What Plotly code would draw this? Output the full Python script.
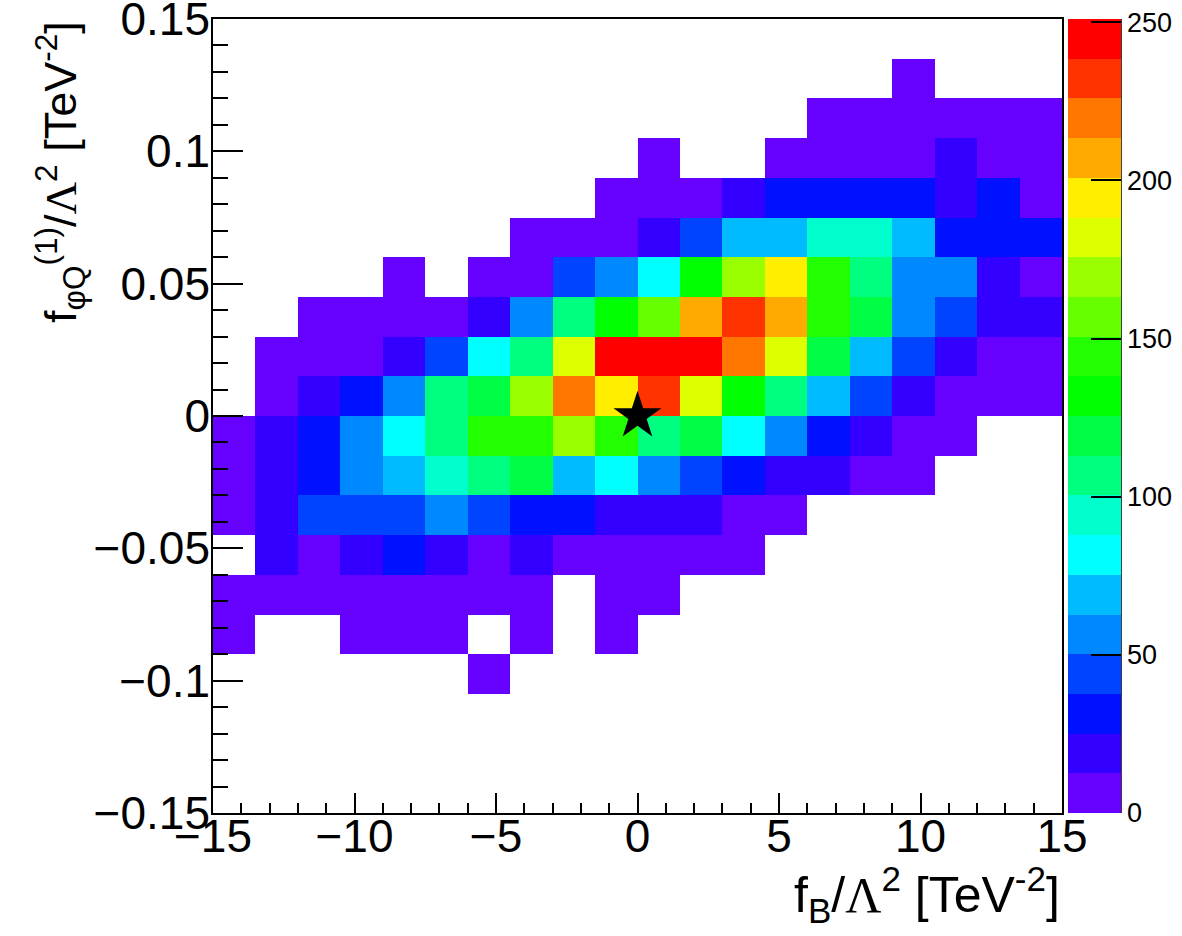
import plotly.graph_objects as go

# ---------------- data ----------------
# bin edges: 20 x-bins on [-15, 15], 20 y-bins on [-0.15, 0.15]
x_centers = [-14.25, -12.75, -11.25, -9.75, -8.25, -6.75, -5.25, -3.75, -2.25, -0.75,
             0.75, 2.25, 3.75, 5.25, 6.75, 8.25, 9.75, 11.25, 12.75, 14.25]
y_centers = [-0.1425, -0.1275, -0.1125, -0.0975, -0.0825, -0.0675, -0.0525, -0.0375,
             -0.0225, -0.0075, 0.0075, 0.0225, 0.0375, 0.0525, 0.0675, 0.0825,
             0.0975, 0.1125, 0.1275, 0.1425]
N = None
# counts per bin, rows from bottom (y=-0.15) to top (y=0.15); None = empty bin
counts = [
    [N, N, N, N, N, N, N, N, N, N, N, N, N, N, N, N, N, N, N, N],
    [N, N, N, N, N, N, N, N, N, N, N, N, N, N, N, N, N, N, N, N],
    [N, N, N, N, N, N, N, N, N, N, N, N, N, N, N, N, N, N, N, N],
    [N, N, N, N, N, N, 6, N, N, N, N, N, N, N, N, N, N, N, N, N],
    [6, N, N, 6, 6, 6, N, 6, N, 6, N, N, N, N, N, N, N, N, N, N],
    [6, 6, 6, 6, 6, 6, 6, 6, N, 6, 6, N, N, N, N, N, N, N, N, N],
    [N, 19, 6, 19, 31, 19, 6, 19, 6, 6, 6, 6, 6, N, N, N, N, N, N, N],
    [6, 19, 44, 44, 44, 56, 44, 31, 31, 19, 19, 19, 6, 6, N, N, N, N, N, N],
    [6, 19, 31, 56, 69, 94, 107, 119, 69, 82, 56, 44, 31, 19, 19, 6, 6, N, N, N],
    [6, 19, 31, 56, 82, 107, 144, 144, 169, 144, 107, 119, 82, 56, 31, 19, 6, 6, N, N],
    [N, 6, 19, 31, 56, 107, 119, 169, 220, 195, 232, 182, 132, 107, 69, 44, 19, 6, 6, 6],
    [N, 6, 6, 6, 19, 44, 82, 107, 182, 245, 245, 251, 220, 182, 119, 69, 44, 19, 6, 6],
    [N, N, 6, 6, 6, 6, 19, 56, 107, 132, 157, 207, 232, 207, 144, 119, 56, 44, 19, 19],
    [N, N, N, N, 6, N, 6, 6, 44, 56, 82, 132, 169, 195, 144, 107, 56, 56, 19, 6],
    [N, N, N, N, N, N, N, 6, 6, 6, 19, 44, 69, 69, 94, 94, 69, 31, 31, 31],
    [N, N, N, N, N, N, N, N, N, 6, 6, 6, 19, 31, 31, 31, 31, 19, 31, 6],
    [N, N, N, N, N, N, N, N, N, N, 6, N, N, 6, 6, 6, 6, 19, 6, 6],
    [N, N, N, N, N, N, N, N, N, N, N, N, N, N, 6, 6, 6, 6, 6, 6],
    [N, N, N, N, N, N, N, N, N, N, N, N, N, N, N, N, 6, N, N, N],
    [N, N, N, N, N, N, N, N, N, N, N, N, N, N, N, N, N, N, N, N],
]
z_max = 251

# palette levels (20 contours, ROOT rainbow-like)
palette = ["#6600ff", "#3300ff", "#0011ff", "#0044ff", "#0088ff", "#00bbff", "#00ffff",
           "#00ffcc", "#00ff80", "#00ff44", "#00ff00", "#22ff00", "#66ff00", "#99ff00",
           "#ddff00", "#ffee00", "#ffaa00", "#ff7700", "#ff3300", "#ff0000"]

x_tickvals = [-15, -10, -5, 0, 5, 10, 15]
x_ticktext = ["\u221215", "\u221210", "\u22125", "0", "5", "10", "15"]
y_tickvals = [-0.15, -0.1, -0.05, 0, 0.05, 0.1, 0.15]
y_ticktext = ["\u22120.15", "\u22120.1", "\u22120.05", "0", "0.05", "0.1", "0.15"]
cbar_tickvals = [0, 50, 100, 150, 200, 250]
cbar_ticktext = ["0", "50", "100", "150", "200", "250"]

star_x = [0]
star_y = [0]

# ---------------- figure ----------------
W, H = 1182, 936
L_M, R_M, T_M, B_M = 213, 120, 19, 123
PW = W - L_M - R_M
PH = H - T_M - B_M

def px_x(px):
    return (px - L_M) / PW

def px_y(py):
    return (H - B_M - py) / PH

nlev = len(palette)
colorscale = []
for k, c in enumerate(palette):
    colorscale.append([k / nlev, c])
    colorscale.append([(k + 1) / nlev, c])

FONT = "Liberation Sans, Arial, Helvetica, sans-serif"

fig = go.Figure()
fig.add_trace(go.Heatmap(
    x=x_centers, y=y_centers, z=counts,
    zmin=0, zmax=z_max, colorscale=colorscale, hoverongaps=False,
    colorbar=dict(
        thickness=53, thicknessmode="pixels", len=1, lenmode="fraction",
        x=px_x(1068), xanchor="left", y=0.5, yanchor="middle",
        xpad=0, ypad=0, outlinewidth=0, borderwidth=0,
        tickmode="array", tickvals=cbar_tickvals, ticktext=cbar_ticktext,
        ticks="inside", ticklen=30, tickwidth=1.5, tickcolor="black",
        tickfont=dict(family=FONT, size=27, color="black"),
    ),
))
fig.add_trace(go.Scatter(
    x=star_x, y=star_y, mode="markers",
    marker=dict(symbol="star", size=36, color="black"),
    showlegend=False, hoverinfo="skip",
))

axis_common = dict(
    showgrid=False, zeroline=False, showline=True, linecolor="black", linewidth=1.6,
    mirror=True, ticks="inside", tickcolor="black", tickwidth=1.5,
    tickfont=dict(family=FONT, size=46, color="black"), automargin=False,
    ticklabeloverflow="allow",
)
fig.update_xaxes(range=[-15, 15], tickmode="array", tickvals=x_tickvals, ticktext=x_ticktext,
                 ticklen=20, ticklabelstandoff=-18,
                 minor=dict(tickmode="linear", tick0=0, dtick=1, ticks="inside", ticklen=10,
                            tickcolor="black", tickwidth=1.5, showgrid=False),
                 **axis_common)
fig.update_yaxes(range=[-0.15, 0.15], tickmode="array", tickvals=y_tickvals, ticktext=y_ticktext,
                 ticklen=30, ticklabelstandoff=-8,
                 minor=dict(tickmode="linear", tick0=0, dtick=0.01, ticks="inside", ticklen=15,
                            tickcolor="black", tickwidth=1.5, showgrid=False),
                 **axis_common)

# colorbar right edge line
fig.add_shape(type="line", xref="paper", yref="paper", x0=px_x(1121), x1=px_x(1121),
              y0=0, y1=1, line=dict(color="black", width=1.5))

LAM = "<span style='font-family:Liberation Serif, DejaVu Serif, serif'>\u039b</span>"
fig.add_annotation(
    xref="paper", yref="paper", x=1, y=px_y(895), xanchor="right", yanchor="middle",
    text="f<sub>B</sub>/" + LAM + "<sup>2</sup> [TeV<sup>-2</sup>]",
    showarrow=False, font=dict(family=FONT, size=50, color="black"),
)
fig.add_annotation(
    xref="paper", yref="paper", x=px_x(60), y=1, xanchor="center", yanchor="top",
    text="f<sub>\u03c6Q</sub><sup>(1)</sup>/" + LAM + "<sup>2</sup> [TeV<sup>-2</sup>]",
    textangle=-90, showarrow=False, font=dict(family=FONT, size=45, color="black"),
)

fig.update_layout(
    width=W, height=H,
    margin=dict(l=L_M, r=R_M, t=T_M, b=B_M, autoexpand=False),
    paper_bgcolor="white", plot_bgcolor="white",
    showlegend=False,
)

fig.write_html("out.html")
